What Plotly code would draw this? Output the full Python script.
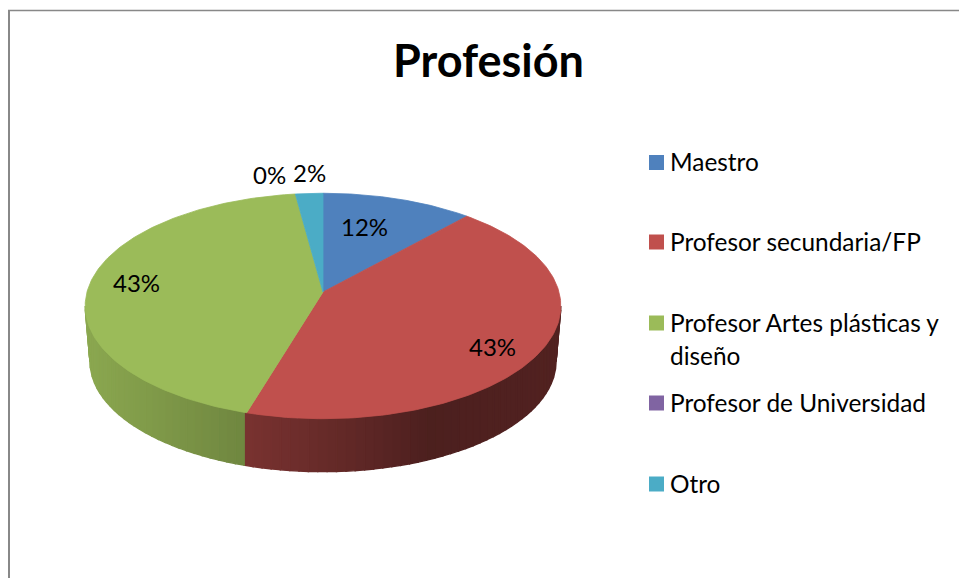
import numpy as np
import plotly.graph_objects as go

categories = ["Maestro", "Profesor secundaria/FP", "Profesor Artes plásticas y diseño",
              "Profesor de Universidad", "Otro"]
values = [11.6, 43.0, 43.3, 0, 2.1]
colors = ["#4F81BD", "#C0504D", "#9BBB59", "#8064A2", "#4BACC6"]
title = "Profesión"

W, H = 959, 578
CX, CY, R, A, K = 323, 292, 236, 111, 0.124
BOT_CY, BOT_S = 347.5, 0.98
FONT = "Lato"


def project(theta, cy=CY, scale=1.0):
    """Perspective view of a circle; theta clockwise from the back (top)."""
    X, Z = np.sin(theta), np.cos(theta)
    w = 1 + K * Z
    return CX + scale * R * X / w, cy - scale * A * Z / w


def rgb(hex_color, f=1.0):
    r, g, b = (int(hex_color[i:i + 2], 16) for i in (1, 3, 5))
    return f"rgb({int(r * f)},{int(g * f)},{int(b * f)})"


fractions = np.array(values, float) / sum(values)
edges = np.concatenate([[0], np.cumsum(fractions)]) * 2 * np.pi

fig = go.Figure()


def poly(xs, ys, color, width=0.8):
    fig.add_trace(go.Scatter(x=xs, y=ys, mode="lines", fill="toself", fillcolor=color,
                             line=dict(color=color, width=width), hoverinfo="skip",
                             showlegend=False))


# side wall: vertical strips so that the slice boundary on the rim is vertical.
# The visible rim runs between the two widest points of the projected circle.
t_side = np.arccos(-K)
front = np.linspace(t_side, 2 * np.pi - t_side, 500)
bx, by = project(front, BOT_CY, BOT_S)
order = np.argsort(bx)
bx, by = bx[order], by[order]


def bottom(x):
    xc = np.clip(x, bx[0], bx[-1])
    return xc, np.interp(xc, bx, by)


wall = np.append(np.arange(front[0], front[-1], np.radians(2.0)), front[-1])
for t0, t1 in zip(wall[:-1], wall[1:]):
    mid = (t0 + t1) / 2
    i = int(np.searchsorted(edges, mid) - 1)
    x0, y0 = project(t0)
    x1, y1 = project(t1)
    x2, y2 = bottom(x1)
    x3, y3 = bottom(x0)
    xm = (x0 + x1) / 2
    if i == 1:
        f = np.interp(xm, [247, 340, 430, 560], [0.63, 0.52, 0.40, 0.43])
    else:
        f = np.interp(xm, [85, 247], [0.90, 0.72])
    poly([x0, x1, x2, x3, x0], [y0, y1, y2, y3, y0], rgb(colors[i], f), width=1.4)

# top surface
for i, (a, b) in enumerate(zip(edges[:-1], edges[1:])):
    if b - a <= 0:
        continue
    t = np.linspace(a, b, 160)
    x, y = project(t)
    poly(np.r_[CX, x, CX], np.r_[CY, y, CY], colors[i])

# legend swatches
legend_y = [162.5, 242, 323, 403, 484]
fig.add_trace(go.Scatter(x=[656.5] * 5, y=legend_y, mode="markers", hoverinfo="skip",
                         showlegend=False,
                         marker=dict(symbol="square", size=15, color=colors, line=dict(width=0))))

ann = []


def text(s, x, y, size, anchor="center", bold=False):
    ann.append(dict(x=x, y=y, xref="x", yref="y", text=f"<b>{s}</b>" if bold else s,
                    showarrow=False, xanchor=anchor, yanchor="middle",
                    font=dict(family=FONT, size=size, color="#000000")))


text(title, 488, 60, 45, bold=True)
label_x = [364, 492, 136, 269, 309]
label_y = [226, 346, 282, 174, 172]
for v, x, y in zip(values, label_x, label_y):
    text(f"{v:.0f}%", x, y, 24)

legend_lines = [categories[0], categories[1], "Profesor Artes plásticas y", "diseño",
                categories[3], categories[4]]
line_y = [161.5, 241.5, 322.5, 355.5, 402.5, 483.5]
for s, y in zip(legend_lines, line_y):
    text(s, 668, y, 24.4, anchor="left")

frame = dict(color="#888888")
shapes = [
    dict(type="line", xref="x", yref="y", x0=9, x1=9, y0=10, y1=H, line=dict(width=2, **frame)),
    dict(type="line", xref="x", yref="y", x0=8, x1=W, y0=10.5, y1=10.5, line=dict(width=1.5, **frame)),
]

fig.update_layout(width=W, height=H, margin=dict(l=0, r=0, t=0, b=0), autosize=False,
                  paper_bgcolor="white", plot_bgcolor="white", showlegend=False,
                  xaxis=dict(range=[0, W], visible=False, fixedrange=True),
                  yaxis=dict(range=[H, 0], visible=False, fixedrange=True),
                  annotations=ann, shapes=shapes)
fig.write_html("out.html", config={"displayModeBar": False},
               post_script="document.body.style.margin='0';document.documentElement.style.overflow='hidden';")
